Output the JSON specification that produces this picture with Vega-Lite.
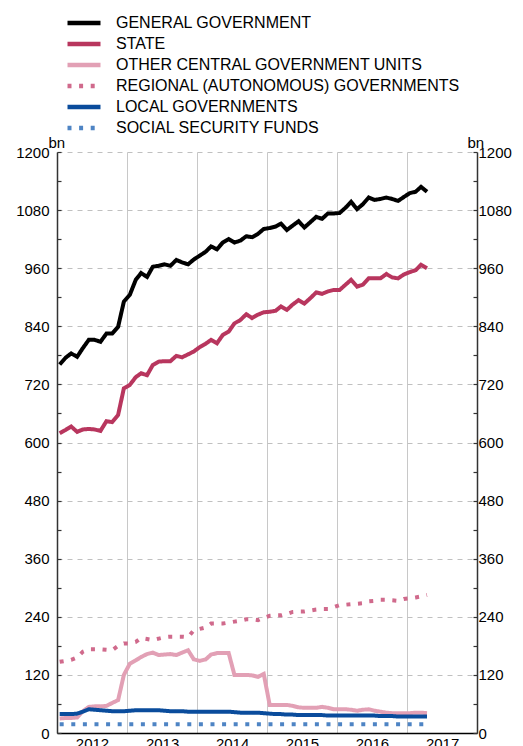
{
"$schema": "https://vega.github.io/schema/vega-lite/v6.json",
"width": 420, "height": 581,
"autosize": {"type": "none"},
"padding": {"left": 57, "top": 152, "right": 46, "bottom": 13},
"background": "white",
"config": {"font": "Liberation Sans", "view": {"stroke": null}},
"data": {"values": [
{"d":"2012-01-15","gg":761,"st":619,"oc":30,"rg":147,"lg":39,"ss":18},
{"d":"2012-02-15","gg":775,"st":626,"oc":31,"rg":149,"lg":39,"ss":18},
{"d":"2012-03-15","gg":784,"st":633,"oc":31,"rg":151,"lg":39,"ss":18},
{"d":"2012-04-15","gg":777,"st":622,"oc":32,"rg":156,"lg":40,"ss":18},
{"d":"2012-05-15","gg":795,"st":627,"oc":45,"rg":168,"lg":44,"ss":18},
{"d":"2012-06-15","gg":812,"st":628,"oc":54,"rg":173,"lg":49,"ss":18},
{"d":"2012-07-15","gg":812,"st":627,"oc":55,"rg":173,"lg":48,"ss":18},
{"d":"2012-08-15","gg":808,"st":624,"oc":55,"rg":173,"lg":47,"ss":18},
{"d":"2012-09-15","gg":825,"st":644,"oc":56,"rg":172,"lg":46,"ss":18},
{"d":"2012-10-15","gg":825,"st":642,"oc":62,"rg":171,"lg":45,"ss":18},
{"d":"2012-11-15","gg":839,"st":657,"oc":68,"rg":180,"lg":45,"ss":18},
{"d":"2012-12-15","gg":891,"st":712,"oc":120,"rg":185,"lg":45,"ss":18},
{"d":"2013-01-15","gg":905,"st":719,"oc":143,"rg":185,"lg":46,"ss":18},
{"d":"2013-02-15","gg":936,"st":735,"oc":150,"rg":188,"lg":47,"ss":18},
{"d":"2013-03-15","gg":950,"st":743,"oc":157,"rg":196,"lg":47,"ss":18},
{"d":"2013-04-15","gg":942,"st":739,"oc":163,"rg":194,"lg":47,"ss":18},
{"d":"2013-05-15","gg":963,"st":760,"oc":166,"rg":192,"lg":47,"ss":18},
{"d":"2013-06-15","gg":965,"st":767,"oc":161,"rg":195,"lg":47,"ss":18},
{"d":"2013-07-15","gg":968,"st":768,"oc":162,"rg":198,"lg":46,"ss":18},
{"d":"2013-08-15","gg":965,"st":768,"oc":163,"rg":199,"lg":45,"ss":18},
{"d":"2013-09-15","gg":977,"st":779,"oc":161,"rg":199,"lg":45,"ss":18},
{"d":"2013-10-15","gg":972,"st":776,"oc":166,"rg":199,"lg":45,"ss":18},
{"d":"2013-11-15","gg":968,"st":782,"oc":171,"rg":198,"lg":44,"ss":18},
{"d":"2013-12-15","gg":978,"st":788,"oc":152,"rg":212,"lg":44,"ss":18},
{"d":"2014-01-15","gg":986,"st":797,"oc":149,"rg":215,"lg":44,"ss":18},
{"d":"2014-02-15","gg":994,"st":804,"oc":152,"rg":218,"lg":44,"ss":18},
{"d":"2014-03-15","gg":1005,"st":812,"oc":162,"rg":226,"lg":44,"ss":18},
{"d":"2014-04-15","gg":999,"st":805,"oc":165,"rg":226,"lg":44,"ss":18},
{"d":"2014-05-15","gg":1013,"st":822,"oc":165,"rg":226,"lg":44,"ss":18},
{"d":"2014-06-15","gg":1020,"st":829,"oc":165,"rg":228,"lg":44,"ss":18},
{"d":"2014-07-15","gg":1013,"st":846,"oc":120,"rg":230,"lg":43,"ss":18},
{"d":"2014-08-15","gg":1017,"st":853,"oc":120,"rg":232,"lg":42,"ss":18},
{"d":"2014-09-15","gg":1026,"st":865,"oc":120,"rg":235,"lg":42,"ss":18},
{"d":"2014-10-15","gg":1024,"st":857,"oc":119,"rg":235,"lg":42,"ss":18},
{"d":"2014-11-15","gg":1031,"st":864,"oc":116,"rg":233,"lg":42,"ss":18},
{"d":"2014-12-15","gg":1041,"st":869,"oc":122,"rg":238,"lg":41,"ss":18},
{"d":"2015-01-15","gg":1043,"st":870,"oc":58,"rg":242,"lg":40,"ss":18},
{"d":"2015-02-15","gg":1046,"st":872,"oc":58,"rg":243,"lg":39,"ss":18},
{"d":"2015-03-15","gg":1052,"st":881,"oc":58,"rg":243,"lg":39,"ss":18},
{"d":"2015-04-15","gg":1039,"st":874,"oc":58,"rg":246,"lg":38,"ss":18},
{"d":"2015-05-15","gg":1048,"st":885,"oc":56,"rg":250,"lg":38,"ss":18},
{"d":"2015-06-15","gg":1057,"st":894,"oc":53,"rg":251,"lg":37,"ss":18},
{"d":"2015-07-15","gg":1044,"st":887,"oc":52,"rg":251,"lg":37,"ss":18},
{"d":"2015-08-15","gg":1055,"st":898,"oc":52,"rg":253,"lg":37,"ss":18},
{"d":"2015-09-15","gg":1066,"st":910,"oc":52,"rg":255,"lg":37,"ss":18},
{"d":"2015-10-15","gg":1062,"st":907,"oc":54,"rg":256,"lg":37,"ss":18},
{"d":"2015-11-15","gg":1073,"st":912,"oc":52,"rg":256,"lg":36,"ss":18},
{"d":"2015-12-15","gg":1073,"st":915,"oc":49,"rg":260,"lg":36,"ss":18},
{"d":"2016-01-15","gg":1074,"st":915,"oc":49,"rg":264,"lg":36,"ss":18},
{"d":"2016-02-15","gg":1085,"st":926,"oc":49,"rg":265,"lg":36,"ss":18},
{"d":"2016-03-15","gg":1097,"st":936,"oc":48,"rg":266,"lg":36,"ss":18},
{"d":"2016-04-15","gg":1082,"st":922,"oc":46,"rg":267,"lg":36,"ss":18},
{"d":"2016-05-15","gg":1092,"st":926,"oc":48,"rg":268,"lg":36,"ss":18},
{"d":"2016-06-15","gg":1106,"st":939,"oc":49,"rg":272,"lg":36,"ss":18},
{"d":"2016-07-15","gg":1101,"st":939,"oc":46,"rg":273,"lg":36,"ss":18},
{"d":"2016-08-15","gg":1103,"st":939,"oc":44,"rg":275,"lg":35,"ss":18},
{"d":"2016-09-15","gg":1106,"st":948,"oc":42,"rg":275,"lg":35,"ss":18},
{"d":"2016-10-15","gg":1103,"st":941,"oc":41,"rg":274,"lg":35,"ss":18},
{"d":"2016-11-15","gg":1099,"st":939,"oc":41,"rg":273,"lg":34,"ss":18},
{"d":"2016-12-15","gg":1107,"st":947,"oc":41,"rg":277,"lg":34,"ss":18},
{"d":"2017-01-15","gg":1115,"st":952,"oc":41,"rg":278,"lg":34,"ss":18},
{"d":"2017-02-15","gg":1118,"st":956,"oc":42,"rg":280,"lg":34,"ss":18},
{"d":"2017-03-15","gg":1128,"st":967,"oc":42,"rg":282,"lg":34,"ss":18},
{"d":"2017-04-15","gg":1118,"st":960,"oc":41,"rg":285,"lg":34,"ss":18}
]},
"transform": [{"fold": ["gg","st","oc","rg","lg","ss"], "as": ["series","value"]}],
"layer": [
{
"mark": {"type": "line", "strokeWidth": 4, "strokeCap": "butt"},
"encoding": {
"x": {"field": "d", "type": "temporal",
 "scale": {"type": "utc", "domain": [{"year":2012,"month":1,"date":1,"utc":true},{"year":2018,"month":1,"date":1,"utc":true}]},
 "axis": {"title": null, "values": [{"year":2012,"month":1,"date":1,"utc":true},{"year":2013,"month":1,"date":1,"utc":true},{"year":2014,"month":1,"date":1,"utc":true},{"year":2015,"month":1,"date":1,"utc":true},{"year":2016,"month":1,"date":1,"utc":true},{"year":2017,"month":1,"date":1,"utc":true}],
  "format": "%Y", "formatType": "utc", "labelOffset": 35, "labelFlush": false, "labelOverlap": false,
  "grid": true, "gridColor": "#c8c8c8", "gridWidth": 1, "ticks": false,
  "domainColor": "#000000", "domainWidth": 1.5, "labelPadding": 3, "labelFontSize": 15, "labelColor": "#000000"}},
"y": {"field": "value", "type": "quantitative",
 "scale": {"domain": [0,1200], "nice": false},
 "axis": {"title": "bn", "titleAngle": 0, "titleX": -9, "titleY": -5, "titleAlign": "left", "titleBaseline": "alphabetic", "titleFontWeight": "normal", "titleFontSize": 15, "titleColor": "#000000",
  "values": [0,60,120,180,240,300,360,420,480,540,600,660,720,780,840,900,960,1020,1080,1140,1200],
  "format": "d", "labelExpr": "datum.value % 120 === 0 ? datum.label : ''",
  "labelFontSize": 15, "labelColor": "#000000", "labelPadding": 12,
  "tickSize": -4, "tickColor": "#333333", "tickWidth": 1.2,
  "domainColor": "#333333", "domainWidth": 1.5,
  "grid": true, "gridColor": "#c0c0c0", "gridDash": [5,5], "gridWidth": 1,
  "gridOpacity": {"condition": {"test": "datum.value % 120 === 0 && datum.value > 0", "value": 1}, "value": 0}}},
"color": {"field": "series", "type": "nominal",
 "scale": {"domain": ["gg","st","oc","rg","lg","ss"], "range": ["#000000","#b8365e","#e2a0b5","#d06a8c","#0a4c9c","#4e84c4"]},
 "legend": {"title": null, "orient": "none", "legendX": 8, "legendY": -137, "symbolType": "stroke", "symbolSize": 1089, "symbolStrokeWidth": 4.5,
  "labelFontSize": 16, "labelOffset": 13, "clipHeight": 16, "rowPadding": 5, "padding": 0, "labelColor": "#000000", "labelLimit": 400,
  "labelExpr": "datum.label == 'gg' ? 'GENERAL GOVERNMENT' : datum.label == 'st' ? 'STATE' : datum.label == 'oc' ? 'OTHER CENTRAL GOVERNMENT UNITS' : datum.label == 'rg' ? 'REGIONAL (AUTONOMOUS) GOVERNMENTS' : datum.label == 'lg' ? 'LOCAL GOVERNMENTS' : 'SOCIAL SECURITY FUNDS'"}},
"strokeDash": {"field": "series", "type": "nominal",
 "scale": {"domain": ["gg","st","oc","rg","lg","ss"], "range": [[1,0],[1,0],[1,0],[4,7.6],[1,0],[4,7.6]]},
 "legend": {"title": null, "orient": "none", "legendX": 8, "legendY": -137, "symbolType": "stroke", "symbolSize": 1089, "symbolStrokeWidth": 4.5,
  "labelFontSize": 16, "labelOffset": 13, "clipHeight": 16, "rowPadding": 5, "padding": 0, "labelColor": "#000000", "labelLimit": 400,
  "labelExpr": "datum.label == 'gg' ? 'GENERAL GOVERNMENT' : datum.label == 'st' ? 'STATE' : datum.label == 'oc' ? 'OTHER CENTRAL GOVERNMENT UNITS' : datum.label == 'rg' ? 'REGIONAL (AUTONOMOUS) GOVERNMENTS' : datum.label == 'lg' ? 'LOCAL GOVERNMENTS' : 'SOCIAL SECURITY FUNDS'"}}
}
},
{
"mark": {"type": "point", "opacity": 0},
"encoding": {
"x": {"field": "d", "type": "temporal"},
"y": {"field": "value", "type": "quantitative",
 "scale": {"domain": [0,1200], "nice": false},
 "axis": {"orient": "right", "title": "bn", "titleAngle": 0, "titleX": -10, "titleY": -5, "titleAlign": "left", "titleBaseline": "alphabetic", "titleFontWeight": "normal", "titleFontSize": 15, "titleColor": "#000000",
  "values": [0,60,120,180,240,300,360,420,480,540,600,660,720,780,840,900,960,1020,1080,1140,1200],
  "format": "d", "labelExpr": "datum.value % 120 === 0 ? datum.label : ''",
  "labelFontSize": 15, "labelColor": "#000000", "labelPadding": 5,
  "tickSize": -4, "tickColor": "#333333", "tickWidth": 1.2,
  "domainColor": "#333333", "domainWidth": 1.5, "grid": false}}
}
}
],
"resolve": {"scale": {"y": "independent"}}
}
